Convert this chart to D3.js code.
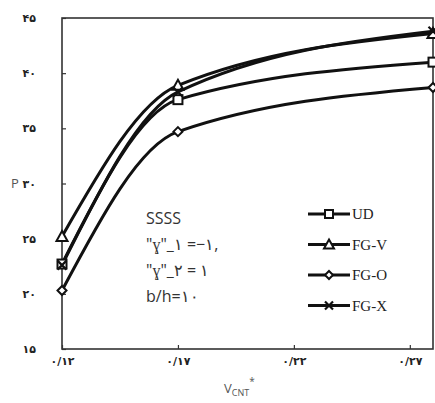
<!DOCTYPE html>
<html>
<head>
<meta charset="utf-8">
<script src="https://cdn.jsdelivr.net/npm/d3@7"></script>
<style>
  html, body { margin: 0; padding: 0; background: #fff; }
  svg { display: block; }
</style>
</head>
<body>
<svg id="chart" width="435" height="403"></svg>
<script>
// Volume fraction of CNTs (x) and the response P for four distributions
const xValues = [0.12, 0.17, 0.28];
const seriesNames = ["UD", "FG-V", "FG-O", "FG-X"];
const udValues  = [22.7, 37.6, 41.0];
const fgvValues = [25.2, 38.9, 43.6];
const fgoValues = [20.3, 34.7, 38.7];
const fgxValues = [22.6, 38.3, 43.8];

const xTicks = [0.12, 0.17, 0.22, 0.27];
const xTickLabels = ["۰/۱۲", "۰/۱۷", "۰/۲۲", "۰/۲۷"];
const yTicks = [15, 20, 25, 30, 35, 40, 45];
const yTickLabels = ["۱۵", "۲۰", "۲۵", "۳۰", "۳۵", "۴۰", "۴۵"];

const noteLines = ["SSSS", "\"ɣ\"_۱  =−۱,", "\"ɣ\"_۲ = ۱", "b/h=۱۰"];

const svg = d3.select("#chart");
const plotLeft = 62, plotRight = 433, plotTop = 18, plotBottom = 349;

const x = d3.scaleLinear().domain([0.12, 0.28]).range([plotLeft, plotRight]);
const y = d3.scaleLinear().domain([15, 45]).range([plotBottom, plotTop]);

const series = [
  { name: seriesNames[0], values: udValues,  marker: "square" },
  { name: seriesNames[1], values: fgvValues, marker: "triangle" },
  { name: seriesNames[2], values: fgoValues, marker: "diamond" },
  { name: seriesNames[3], values: fgxValues, marker: "cross" }
];

// Frame
svg.append("rect")
  .attr("x", plotLeft).attr("y", plotTop)
  .attr("width", plotRight - plotLeft).attr("height", plotBottom - plotTop)
  .attr("fill", "none").attr("stroke", "#333").attr("stroke-width", 1.6);

// Axes with inward ticks
const yAxis = d3.axisLeft(y)
  .tickValues(yTicks)
  .tickFormat((d, i) => yTickLabels[i])
  .tickSizeInner(-4).tickSizeOuter(0).tickPadding(26);
const gy = svg.append("g").attr("transform", `translate(${plotLeft},0)`).call(yAxis);
gy.select(".domain").remove();
gy.selectAll(".tick line").attr("stroke", "#333").attr("stroke-width", 1.2);
gy.selectAll(".tick text")
  .attr("font-family", "DejaVu Sans").attr("font-weight", "bold")
  .attr("font-size", 11).attr("fill", "#222");

const xAxis = d3.axisBottom(x)
  .tickValues(xTicks)
  .tickFormat((d, i) => xTickLabels[i])
  .tickSizeInner(-4).tickSizeOuter(0).tickPadding(8);
const gx = svg.append("g").attr("transform", `translate(0,${plotBottom})`).call(xAxis);
gx.select(".domain").remove();
gx.selectAll(".tick line").attr("stroke", "#333").attr("stroke-width", 1.2);
gx.selectAll(".tick text")
  .attr("font-family", "DejaVu Sans").attr("font-weight", "bold")
  .attr("font-size", 11).attr("fill", "#222");

// Axis titles
svg.append("text").attr("x", 11).attr("y", 188)
  .attr("font-family", "Open Sans").attr("font-size", 13).attr("fill", "#555")
  .text("P");

const xt = svg.append("text").attr("x", 224).attr("y", 393)
  .attr("font-family", "Open Sans").attr("font-size", 13).attr("fill", "#555");
xt.append("tspan").text("V");
xt.append("tspan").attr("font-size", 9).attr("dy", 3).text("CNT");
xt.append("tspan").attr("font-size", 10).attr("dy", -11).text("*");

// Curves
const line = d3.line()
  .x((d, i) => x(xValues[i]))
  .y(d => y(d))
  .curve(d3.curveMonotoneX);

const plot = svg.append("g");
series.forEach(s => {
  plot.append("path")
    .attr("d", line(s.values))
    .attr("fill", "none").attr("stroke", "#111").attr("stroke-width", 3);
});

function drawMarker(g, type, cx, cy, size) {
  const h = size / 2;
  if (type === "square") {
    g.append("rect").attr("x", cx - h).attr("y", cy - h)
      .attr("width", size).attr("height", size)
      .attr("fill", "#fff").attr("stroke", "#111").attr("stroke-width", 2);
  } else if (type === "triangle") {
    g.append("path")
      .attr("d", `M${cx},${cy - h - 1}L${cx + h + 1},${cy + h}L${cx - h - 1},${cy + h}Z`)
      .attr("fill", "#fff").attr("stroke", "#111").attr("stroke-width", 2);
  } else if (type === "diamond") {
    g.append("path")
      .attr("d", `M${cx},${cy - h}L${cx + h},${cy}L${cx},${cy + h}L${cx - h},${cy}Z`)
      .attr("fill", "#fff").attr("stroke", "#111").attr("stroke-width", 2);
  } else {
    g.append("path")
      .attr("d", `M${cx - h},${cy - h}L${cx + h},${cy + h}M${cx + h},${cy - h}L${cx - h},${cy + h}`)
      .attr("fill", "none").attr("stroke", "#111").attr("stroke-width", 2.2);
  }
}

series.forEach(s => {
  s.values.forEach((v, i) => drawMarker(plot, s.marker, x(xValues[i]), y(v), 9));
});

// Note block
const note = svg.append("g");
noteLines.forEach((t, i) => {
  note.append("text")
    .attr("x", 146).attr("y", 224 + i * 26)
    .attr("font-family", "Open Sans").attr("font-size", 16).attr("fill", "#333")
    .text(t);
});

// Legend
const legend = svg.append("g");
series.forEach((s, i) => {
  const ly = 214 + i * 30.5;
  legend.append("line")
    .attr("x1", 308).attr("x2", 350).attr("y1", ly).attr("y2", ly)
    .attr("stroke", "#111").attr("stroke-width", 3);
  drawMarker(legend, s.marker, 329, ly, 8);
  legend.append("text")
    .attr("x", 352).attr("y", ly + 5)
    .attr("font-family", "Liberation Serif").attr("font-size", 15).attr("fill", "#222")
    .text(s.name);
});
</script>
</body>
</html>
